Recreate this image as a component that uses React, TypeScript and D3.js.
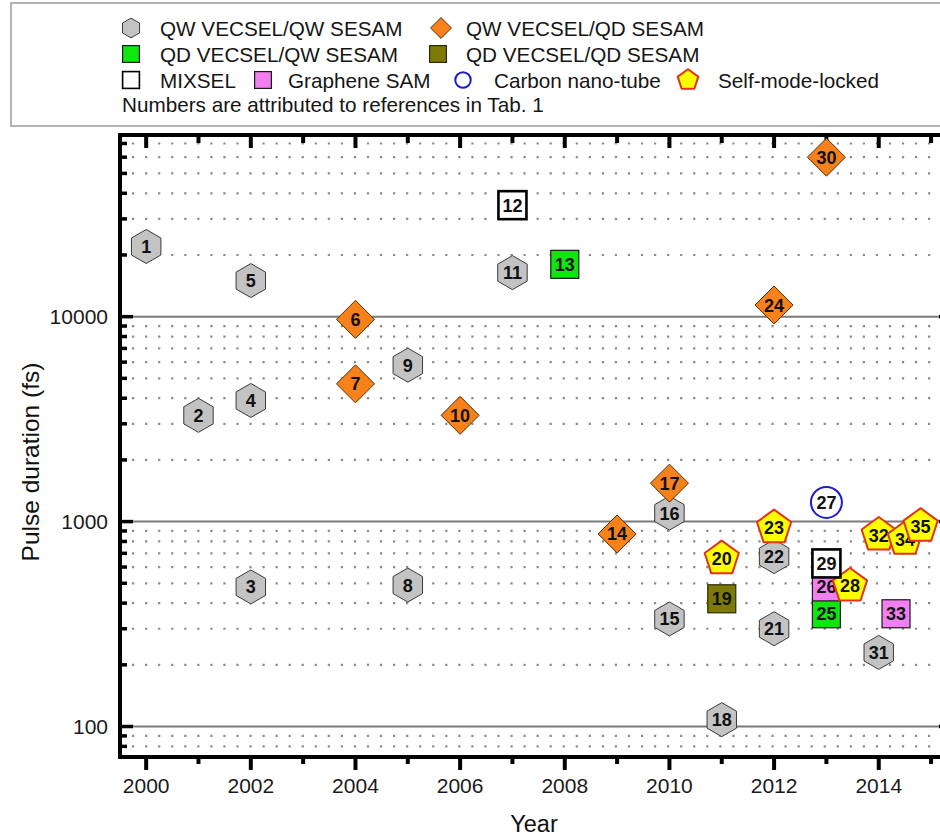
import React from 'react';
import * as d3 from 'd3';

// ---- data ----
const refIds = [1, 2, 3, 4, 5, 6, 7, 8, 9, 10, 11, 12, 13, 14, 15, 16, 17, 18, 19, 20, 21, 22, 23, 24, 25, 26, 27, 28, 29, 30, 31, 32, 33, 34, 35];
const refYears = [2000, 2001, 2002, 2002, 2002, 2004, 2004, 2005, 2005, 2006, 2007, 2007, 2008, 2009, 2010, 2010, 2010, 2011, 2011, 2011, 2012, 2012, 2012, 2012, 2013, 2013, 2013, 2013.45, 2013, 2013, 2014, 2014, 2014.33, 2014.5, 2014.8];
const refDurations = [22000, 3300, 480, 3900, 15000, 9700, 4700, 490, 5800, 3300, 16400, 35000, 18000, 870, 335, 1100, 1540, 108, 420, 660, 300, 675, 935, 11400, 355, 480, 1240, 485, 625, 60000, 230, 860, 355, 820, 950];
const refTypes = ['qwqw', 'qwqw', 'qwqw', 'qwqw', 'qwqw', 'qwqd', 'qwqd', 'qwqw', 'qwqw', 'qwqd', 'qwqw', 'mixsel', 'qdqw', 'qwqd', 'qwqw', 'qwqw', 'qwqd', 'qwqw', 'qdqd', 'sml', 'qwqw', 'qwqw', 'sml', 'qwqd', 'qdqw', 'graphene', 'cnt', 'sml', 'mixsel', 'qwqd', 'qwqw', 'sml', 'graphene', 'sml', 'sml'];

const seriesKeys = ['qwqw', 'qwqd', 'qdqw', 'qdqd', 'mixsel', 'graphene', 'cnt', 'sml'];
const seriesNames = ['QW VECSEL/QW SESAM', 'QW VECSEL/QD SESAM', 'QD VECSEL/QW SESAM', 'QD VECSEL/QD SESAM', 'MIXSEL', 'Graphene SAM', 'Carbon nano-tube', 'Self-mode-locked'];
const legendNote = 'Numbers are attributed to references in Tab. 1';

const yearTicks = [2000, 2001, 2002, 2003, 2004, 2005, 2006, 2007, 2008, 2009, 2010, 2011, 2012, 2013, 2014, 2015];
const yearLabels = [2000, 2002, 2004, 2006, 2008, 2010, 2012, 2014];
const durationLabels = [100, 1000, 10000];
const xTitle = 'Year';
const yTitle = 'Pulse duration (fs)';

// ---- styles ----
const FONT = '"Liberation Sans", Arial, Helvetica, sans-serif';
const styles: Record<string, any> = {
  qwqw: { shape: 'hex', fill: '#c3c3c3', stroke: '#3a3a3a', sw: 1, r: 17 },
  qwqd: { shape: 'diamond', fill: '#f7821b', stroke: '#5a2a00', sw: 1, r: 19 },
  qdqw: { shape: 'square', fill: '#0ee60e', stroke: '#1a1a1a', sw: 1.2, r: 14 },
  qdqd: { shape: 'square', fill: '#7d7a05', stroke: '#2a2a00', sw: 1.2, r: 14 },
  mixsel: { shape: 'square', fill: '#ffffff', stroke: '#000000', sw: 2.6, r: 14 },
  graphene: { shape: 'square', fill: '#f27ff2', stroke: '#1a1a1a', sw: 1.2, r: 14 },
  cnt: { shape: 'circle', fill: '#ffffff', stroke: '#1c1ccc', sw: 2, r: 15.5 },
  sml: { shape: 'pent', fill: '#ffff00', stroke: '#e2321a', sw: 2, r: 18 },
};

function polyPoints(n: number, r: number) {
  const pts: string[] = [];
  for (let i = 0; i < n; i++) {
    const a = -Math.PI / 2 + (i * 2 * Math.PI) / n;
    pts.push(`${(r * Math.cos(a)).toFixed(2)},${(r * Math.sin(a)).toFixed(2)}`);
  }
  return pts.join(' ');
}

function Marker({ type, cx, cy, k = 1, sw }: { type: string; cx: number; cy: number; k?: number; sw?: number }) {
  const s = styles[type];
  const r = s.r * k;
  const common = { fill: s.fill, stroke: s.stroke, strokeWidth: sw ?? s.sw };
  let el: any;
  if (s.shape === 'hex') el = <polygon points={polyPoints(6, r)} {...common} />;
  else if (s.shape === 'diamond') el = <polygon points={polyPoints(4, r)} {...common} />;
  else if (s.shape === 'pent') el = <polygon points={polyPoints(5, r)} {...common} strokeLinejoin="round" />;
  else if (s.shape === 'circle') el = <circle r={r} {...common} />;
  else el = <rect x={-r} y={-r} width={2 * r} height={2 * r} {...common} />;
  return <g transform={`translate(${cx},${cy})`}>{el}</g>;
}

const W = 940;
const H = 838;
const left = 120;
const right = 952;
const top = 135;
const bottom = 757;

export default function App() {
  const x = d3.scaleLinear().domain([1999.5, 2015.4]).range([left, right]);
  const y = d3.scaleLog().domain([71, 77000]).range([bottom, top]);

  const minorVals: number[] = [];
  [10, 100, 1000, 10000].forEach((dec) => {
    for (let m = 2; m <= 9; m++) {
      const v = dec * m;
      if (v > 71 && v < 77000) minorVals.push(v);
    }
  });

  const points = refIds.map((id, i) => ({ id, year: refYears[i], dur: refDurations[i], type: refTypes[i] }));

  // legend layout
  const legendItems = [
    { key: 0, sx: 131, tx: 160, cy: 28 },
    { key: 1, sx: 441, tx: 466, cy: 28 },
    { key: 2, sx: 131, tx: 160, cy: 54 },
    { key: 3, sx: 438, tx: 466, cy: 54 },
    { key: 4, sx: 131, tx: 160, cy: 80 },
    { key: 5, sx: 263, tx: 288, cy: 80 },
    { key: 6, sx: 463, tx: 494, cy: 80 },
    { key: 7, sx: 688, tx: 718, cy: 80 },
  ];
  const legendScale: Record<string, number> = { qwqw: 0.58, qwqd: 0.55, qdqw: 0.6, qdqd: 0.6, mixsel: 0.6, graphene: 0.6, cnt: 0.5, sml: 0.6 };

  return (
    <svg width={W} height={H} style={{ position: 'absolute', left: 0, top: 0, background: '#fff' }} fontFamily={FONT}>
      <rect x={0} y={0} width={W} height={H} fill="#fff" />
      {/* legend */}
      <rect x={11} y={3} width={940} height={123} fill="#fff" stroke="#9a9a9a" strokeWidth={1.5} />
      {legendItems.map((it) => {
        const key = seriesKeys[it.key];
        const k = legendScale[key];
        return (
          <g key={key}>
            <Marker type={key} cx={it.sx} cy={it.cy} k={k} sw={key === 'mixsel' ? 1.6 : undefined} />
            <text x={it.tx} y={it.cy + 7.5} fontSize={20.7} fill="#151515">{seriesNames[it.key]}</text>
          </g>
        );
      })}
      <text x={122} y={112} fontSize={20.7} fill="#151515">{legendNote}</text>

      {/* grid */}
      {minorVals.map((v) => (
        <line key={'mg' + v} x1={132} x2={right} y1={y(v)} y2={y(v)} stroke="#8a8a8a" strokeWidth={2.2} strokeDasharray="2.2 10.85" />
      ))}
      {durationLabels.map((v) => (
        <line key={'Mg' + v} x1={left} x2={right} y1={y(v)} y2={y(v)} stroke="#7a7a7a" strokeWidth={2} />
      ))}

      {/* y ticks (inward, left and right) */}
      {minorVals.map((v) => (
        <g key={'mt' + v}>
          <line x1={left} x2={left + 7} y1={y(v)} y2={y(v)} stroke="#000" strokeWidth={3.5} />
          <line x1={right} x2={right - 7} y1={y(v)} y2={y(v)} stroke="#000" strokeWidth={3.5} />
        </g>
      ))}
      {durationLabels.map((v) => (
        <g key={'Mt' + v}>
          <line x1={left} x2={left + 13} y1={y(v)} y2={y(v)} stroke="#000" strokeWidth={3.5} />
          <line x1={right} x2={right - 13} y1={y(v)} y2={y(v)} stroke="#000" strokeWidth={3.5} />
          <text x={108} y={y(v) + 7.5} textAnchor="end" fontSize={21} fill="#1a1a1a">{v}</text>
        </g>
      ))}

      {/* x ticks */}
      {yearTicks.map((yr) => {
        const major = yr % 2 === 0;
        return (
          <g key={'xt' + yr}>
            <line x1={x(yr)} x2={x(yr)} y1={bottom} y2={bottom + (major ? 13 : 7)} stroke="#000" strokeWidth={4} />
            <line x1={x(yr)} x2={x(yr)} y1={top} y2={top + (major ? 13 : 8)} stroke="#000" strokeWidth={4} />
          </g>
        );
      })}
      {yearLabels.map((yr) => (
        <text key={'xl' + yr} x={x(yr)} y={793} textAnchor="middle" fontSize={21} fill="#1a1a1a">{yr}</text>
      ))}

      {/* frame */}
      <rect x={left} y={top} width={right - left} height={bottom - top} fill="none" stroke="#000" strokeWidth={4} />

      {/* points */}
      {points.map((p) => (
        <g key={'p' + p.id}>
          <Marker type={p.type} cx={x(p.year)} cy={y(p.dur)} />
          <text x={x(p.year)} y={y(p.dur) + 6.5} textAnchor="middle" fontSize={18} fontWeight="bold" fill="#111">{p.id}</text>
        </g>
      ))}

      {/* titles */}
      <text x={534} y={832} textAnchor="middle" fontSize={23.5} fill="#111">{xTitle}</text>
      <text transform={`translate(39,462) rotate(-90)`} textAnchor="middle" fontSize={24.5} fill="#111">{yTitle}</text>
    </svg>
  );
}
